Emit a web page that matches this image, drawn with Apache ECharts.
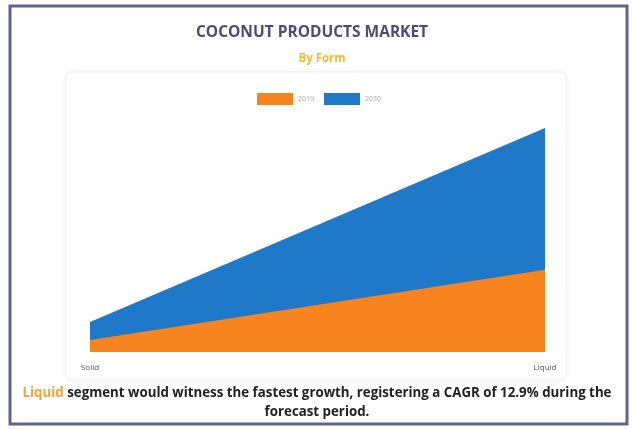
<!DOCTYPE html>
<html><head><meta charset="utf-8">
<script src="https://cdn.jsdelivr.net/npm/echarts@6/dist/echarts.min.js"></script>
<style>html,body{margin:0;padding:0;background:#fff}#c{width:635px;height:429px}</style>
</head><body><div id="c"></div>
<script>
const categories = ['Solid', 'Liquid'];
const legendNames = ['2019', '2030'];
const values2019 = [5, 34];
const values2030 = [12.4, 92.6];

const chart = echarts.init(document.getElementById('c'));
chart.setOption({
  backgroundColor: '#fff',
  animation: false,
  title: [{
    text: 'COCONUT PRODUCTS MARKET', left: 307, top: 20, textAlign: 'center',
    textStyle: {fontFamily: 'Open Sans', fontWeight: 'bold', fontSize: 15.5, color: '#4b4a7e'}
  }, {
    text: 'By Form', left: 317, top: 48, textAlign: 'center',
    textStyle: {fontFamily: 'Open Sans', fontWeight: 'bold', fontSize: 11.5, color: '#f2b83a'}
  }],
  legend: {
    data: legendNames, top: 88, left: 252, itemWidth: 36, itemHeight: 12, itemGap: 10,
    textStyle: {fontFamily: 'Open Sans', fontSize: 7, color: '#aaa'},
    icon: 'rect'
  },
  grid: {left: 90, right: 90, top: 110, bottom: 77},
  xAxis: {
    type: 'category', data: categories, boundaryGap: false,
    axisLine: {show: false}, axisTick: {show: false},
    axisLabel: {fontFamily: 'Open Sans', fontSize: 8, color: '#555', margin: 12}
  },
  yAxis: {type: 'value', min: 0, max: 100, show: false, splitLine: {show: false}},
  graphic: [
    {type: 'rect', z: -10, shape: {x: 66, y: 72, width: 500, height: 308, r: 6},
     style: {fill: '#fff', stroke: '#f0f0f4', lineWidth: 1, shadowBlur: 6, shadowColor: 'rgba(0,0,0,0.06)'}},
    {type: 'rect', z: 100, shape: {x: 10, y: 6, width: 617, height: 418},
     style: {fill: 'none', stroke: '#62628f', lineWidth: 3}},
    {type: 'text', z: 100,
     style: {
       x: 317, y: 384,
       text: '{o|Liquid} segment would witness the fastest growth, registering a CAGR of 12.9% during the\nforecast period.',
       align: 'center', verticalAlign: 'top', lineHeight: 19,
       fontFamily: 'Open Sans', fontSize: 13.3, fontWeight: 'bold', fill: '#222',
       rich: {o: {fill: '#f2a23a', fontFamily: 'Open Sans', fontSize: 13.3, fontWeight: 'bold'}}
     }}
  ],
  series: [{
    name: legendNames[0], type: 'line', data: values2019, z: 3,
    symbol: 'none', lineStyle: {width: 0}, itemStyle: {color: '#f7841f'},
    areaStyle: {color: '#f7841f', opacity: 1}
  }, {
    name: legendNames[1], type: 'line', data: values2030, z: 2,
    symbol: 'none', lineStyle: {width: 0}, itemStyle: {color: '#1f78c8'},
    areaStyle: {color: '#1f78c8', opacity: 1}
  }]
});
</script></body></html>
